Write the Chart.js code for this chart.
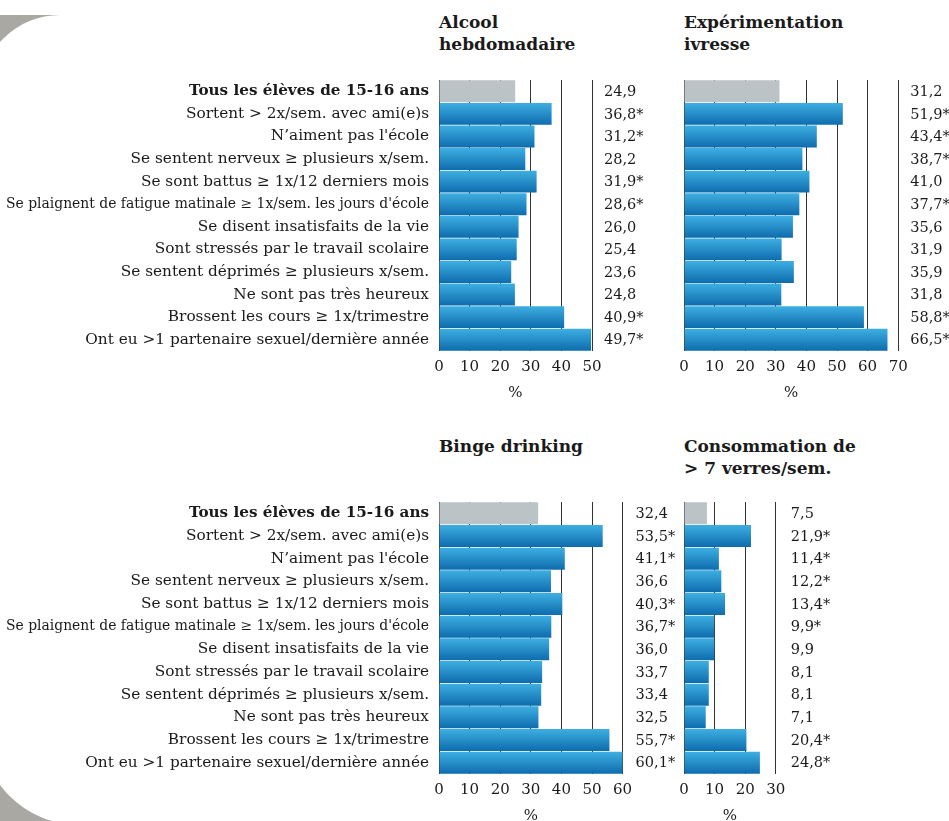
<!DOCTYPE html>
<html>
<head>
<meta charset="utf-8">
<script src="https://cdn.jsdelivr.net/npm/chart.js@4"></script>
<style>
  body { margin: 0; width: 949px; height: 821px; overflow: hidden; background: #fff; position: relative; font-family: "DejaVu Serif", serif; color: #1a1a1a; }
  #bg { position: absolute; left: 0; top: 15px; width: 949px; height: 806px; background: #a9a8a3; overflow: hidden; }
  #card { position: absolute; left: -20px; top: 0; width: 1000px; height: 810px; background: #fff; border-top-left-radius: 80px; border-bottom-left-radius: 100px; }
  .panel { position: absolute; }
  .title { position: absolute; font-weight: bold; font-size: 17px; line-height: 22px; }
</style>
</head>
<body>
<div id="bg"><div id="card"></div></div>

<div class="title" style="left:439px; top:11px;">Alcool<br>hebdomadaire</div>
<div class="title" style="left:684px; top:11px;">Expérimentation<br>ivresse</div>
<div class="title" style="left:439px; top:435px;">Binge drinking</div>
<div class="title" style="left:684px; top:435px;">Consommation de<br>&gt; 7 verres/sem.</div>

<canvas id="c1" class="panel"></canvas>
<canvas id="c2" class="panel"></canvas>
<canvas id="c3" class="panel"></canvas>
<canvas id="c4" class="panel"></canvas>

<script>
const categories = [
  "Tous les élèves de 15-16 ans",
  "Sortent > 2x/sem. avec ami(e)s",
  "N’aiment pas l'école",
  "Se sentent nerveux ≥ plusieurs x/sem.",
  "Se sont battus ≥ 1x/12 derniers mois",
  "Se plaignent de fatigue matinale ≥ 1x/sem. les jours d'école",
  "Se disent insatisfaits de la vie",
  "Sont stressés par le travail scolaire",
  "Se sentent déprimés ≥ plusieurs x/sem.",
  "Ne sont pas très heureux",
  "Brossent les cours ≥ 1x/trimestre",
  "Ont eu >1 partenaire sexuel/dernière année"
];

const alcoolHebdo = [24.9, 36.8, 31.2, 28.2, 31.9, 28.6, 26.0, 25.4, 23.6, 24.8, 40.9, 49.7];
const alcoolSig   = [0, 1, 1, 0, 1, 1, 0, 0, 0, 0, 1, 1];
const ivresse     = [31.2, 51.9, 43.4, 38.7, 41.0, 37.7, 35.6, 31.9, 35.9, 31.8, 58.8, 66.5];
const ivresseSig  = [0, 1, 1, 1, 0, 1, 0, 0, 0, 0, 1, 1];
const binge       = [32.4, 53.5, 41.1, 36.6, 40.3, 36.7, 36.0, 33.7, 33.4, 32.5, 55.7, 60.1];
const bingeSig    = [0, 1, 1, 0, 1, 1, 0, 0, 0, 0, 1, 1];
const conso7      = [7.5, 21.9, 11.4, 12.2, 13.4, 9.9, 9.9, 8.1, 8.1, 7.1, 20.4, 24.8];
const conso7Sig   = [0, 1, 1, 1, 1, 1, 0, 0, 0, 0, 1, 1];

const axisMax = [50, 70, 60, 30];
const axisTitle = "%";

const FONT = "'DejaVu Serif', serif";

function fmt(v, sig) {
  return v.toFixed(1).replace('.', ',') + (sig ? '*' : '');
}

// text column to the right of each plot
const valueColumn = {
  id: 'valueColumn',
  afterDatasetsDraw(chart, args, opts) {
    const ctx = chart.ctx;
    const y = chart.scales.y;
    ctx.save();
    ctx.font = '14.5px ' + FONT;
    ctx.fillStyle = '#1a1a1a';
    ctx.textBaseline = 'middle';
    ctx.textAlign = 'left';
    opts.values.forEach((v, i) => {
      ctx.fillText(fmt(v, opts.sig[i]), chart.chartArea.right + opts.offset, y.getPixelForValue(i) + 1);
    });
    ctx.restore();
  }
};

function barColor(c) {
  if (c.dataIndex === 0) return '#bcc3c6';
  const chart = c.chart;
  const area = chart.chartArea;
  if (!area || !chart.scales.y) return '#2a8fcf';
  const mid = chart.scales.y.getPixelForValue(c.dataIndex);
  const h = (area.bottom - area.top) / categories.length;
  const g = chart.ctx.createLinearGradient(0, mid - h / 2, 0, mid + h / 2);
  g.addColorStop(0, '#3eb0e2');
  g.addColorStop(1, '#0e6bad');
  return g;
}

function makeChart(id, box, values, sig, max, showLabels, valOffset) {
  const cv = document.getElementById(id);
  cv.width = box.w;
  cv.height = box.h;
  cv.style.left = box.x + 'px';
  cv.style.top = box.y + 'px';
  const plotW = max / 10 * 30.6;
  return new Chart(cv, {
    type: 'bar',
    data: {
      labels: categories,
      datasets: [{
        data: values,
        backgroundColor: barColor,
        borderWidth: 0,
        barPercentage: 0.97,
        categoryPercentage: 1
      }]
    },
    options: {
      indexAxis: 'y',
      responsive: false,
      animation: false,
      devicePixelRatio: 1,
      layout: {
        padding: { left: 0, top: box.plotTop - box.y, right: box.w - (box.plotLeft - box.x) - plotW, bottom: 0 }
      },
      plugins: {
        legend: { display: false },
        tooltip: { enabled: false },
        valueColumn: { values: values, sig: sig, offset: valOffset }
      },
      scales: {
        x: {
          min: 0,
          max: max,
          ticks: { stepSize: 10, padding: 7, color: '#1a1a1a', font: { family: FONT, size: 15 } },
          grid: { color: '#333', lineWidth: 1, drawTicks: false },
          border: { display: false },
          title: { display: true, text: axisTitle, color: '#1a1a1a', font: { family: FONT, size: 15 }, padding: { top: 4, bottom: 9 } },
          afterFit(s) { s.height = box.h - (box.plotBottom - box.y); }
        },
        y: {
          grid: { display: false },
          border: { display: false },
          ticks: {
            display: showLabels,
            padding: 2,
            color: '#1a1a1a',
            autoSkip: false,
            font: (c) => {
              if (c.index === 0) return { family: FONT, size: 15.2, weight: 'bold' };
              if (c.index === 5) return { family: FONT, size: 13.9 };
              return { family: FONT, size: 15.3 };
            }
          },
          afterFit(s) { s.width = box.plotLeft - box.x; }
        }
      }
    },
    plugins: [valueColumn]
  });
}

makeChart('c1', { x: 0, y: 60, w: 680, h: 351 - 60 + 60, plotLeft: 439, plotTop: 80, plotBottom: 351 }, alcoolHebdo, alcoolSig, axisMax[0], true, 12);
makeChart('c2', { x: 640, y: 60, w: 309, h: 351 - 60 + 60, plotLeft: 684, plotTop: 80, plotBottom: 351 }, ivresse, ivresseSig, axisMax[1], false, 12);
makeChart('c3', { x: 0, y: 482, w: 680, h: 774 - 482 + 60, plotLeft: 439, plotTop: 502, plotBottom: 774 }, binge, bingeSig, axisMax[2], true, 13);
makeChart('c4', { x: 640, y: 482, w: 309, h: 774 - 482 + 60, plotLeft: 684, plotTop: 502, plotBottom: 774 }, conso7, conso7Sig, axisMax[3], false, 15);
</script>
</body>
</html>
